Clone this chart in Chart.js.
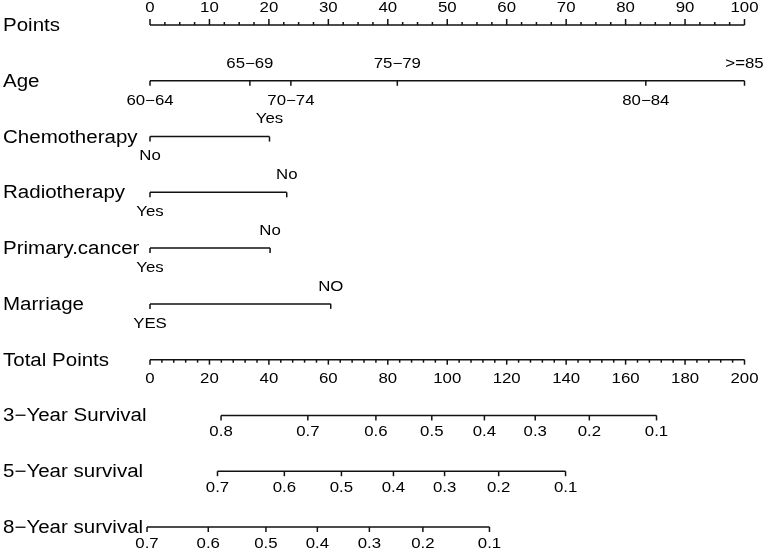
<!DOCTYPE html>
<html>
<head>
<meta charset="utf-8">
<script src="https://cdn.jsdelivr.net/npm/chart.js@4/dist/chart.umd.min.js"></script>
<style>
  body { margin: 0; background: #fff; }
</style>
</head>
<body>
<canvas id="nomogram" width="765" height="551"></canvas>
<script>
// row titles, top to bottom
const rowTitles = ['Points', 'Age', 'Chemotherapy', 'Radiotherapy', 'Primary.cancer',
  'Marriage', 'Total Points', '3\u2212Year Survival', '5\u2212Year survival', '8\u2212Year survival'];

// points scale (0-100)
const pointTicks = [0, 10, 20, 30, 40, 50, 60, 70, 80, 90, 100];

// predictors: level labels and their points
const ageLevels = ['60\u221264', '65\u221269', '70\u221274', '75\u221279', '80\u221284', '>=85'];
const agePoints = [0, 16.8, 23.7, 41.6, 83.4, 100];
const chemoLevels = ['No', 'Yes'];
const chemoPoints = [0, 20.1];
const radioLevels = ['Yes', 'No'];
const radioPoints = [0, 23.0];
const primaryLevels = ['Yes', 'No'];
const primaryPoints = [0, 20.2];
const marriageLevels = ['YES', 'NO'];
const marriagePoints = [0, 30.4];

// total points scale (0-200)
const totalTicks = [0, 20, 40, 60, 80, 100, 120, 140, 160, 180, 200];

// survival probabilities and the total points they sit at
const surv3Labels = ['0.8', '0.7', '0.6', '0.5', '0.4', '0.3', '0.2', '0.1'];
const surv3Total = [23.9, 53.1, 76.0, 94.8, 112.5, 129.6, 147.8, 170.4];
const surv5Labels = ['0.7', '0.6', '0.5', '0.4', '0.3', '0.2', '0.1'];
const surv5Total = [22.7, 45.2, 64.4, 81.9, 99.1, 117.3, 139.8];
const surv8Labels = ['0.7', '0.6', '0.5', '0.4', '0.3', '0.2', '0.1'];
const surv8Total = [-1.0, 19.6, 39.0, 56.3, 73.8, 91.8, 114.2];

const INK = '#111';
const FONT = '"Liberation Sans", Arial, sans-serif';

const predictors = [
  { levels: ageLevels, pts: agePoints },
  { levels: chemoLevels, pts: chemoPoints },
  { levels: radioLevels, pts: radioPoints },
  { levels: primaryLevels, pts: primaryPoints },
  { levels: marriageLevels, pts: marriagePoints },
];
const survRows = [
  { labels: surv3Labels, pts: surv3Total },
  { labels: surv5Labels, pts: surv5Total },
  { labels: surv8Labels, pts: surv8Total },
];

function seg(row, values, axis) {
  return {
    data: [{ x: Math.min(...values), y: row }, { x: Math.max(...values), y: row }],
    xAxisID: axis,
    showLine: true,
    borderColor: INK,
    borderWidth: 1.5,
    pointRadius: 0,
    clip: false,
  };
}

const datasets = [seg(0, pointTicks, 'x')];
predictors.forEach((p, i) => datasets.push(seg(i + 1, p.pts, 'x')));
datasets.push(seg(6, totalTicks, 'x2'));
survRows.forEach((s, i) => datasets.push(seg(7 + i, s.pts, 'x2')));

// the original text is a little wider than it is tall
function text(ctx, s, x, y, size, align, sx) {
  ctx.save();
  ctx.translate(x, y);
  ctx.scale(sx || 1.2, 1);
  ctx.font = size + 'px ' + FONT;
  ctx.fillStyle = '#000';
  ctx.textAlign = align;
  ctx.textBaseline = 'middle';
  ctx.fillText(s, 0, 0);
  ctx.restore();
}

function tick(ctx, x, y, len) {
  ctx.beginPath();
  ctx.moveTo(x, y);
  ctx.lineTo(x, y + len);
  ctx.stroke();
}

const nomoPlugin = {
  id: 'nomo',
  afterDatasetsDraw(chart) {
    const ctx = chart.ctx;
    const xs = chart.scales.x, xt = chart.scales.x2, ys = chart.scales.y;
    ctx.save();
    ctx.strokeStyle = INK;
    ctx.lineWidth = 1.5;

    rowTitles.forEach((t, i) => text(ctx, t, 3, ys.getPixelForValue(i) + 1, 18, 'left', 1.14));

    // points axis: ticks up, labels above
    let y = ys.getPixelForValue(0);
    for (let v = 0; v <= 100; v += 2.5) {
      tick(ctx, xs.getPixelForValue(v), y, v % 10 === 0 ? -6 : -3);
    }
    pointTicks.forEach(v => text(ctx, String(v), xs.getPixelForValue(v), y - 17, 14, 'center'));

    // predictors: ticks down, labels alternate below/above
    predictors.forEach((p, i) => {
      const yy = ys.getPixelForValue(i + 1);
      p.pts.forEach((v, k) => {
        const px = xs.getPixelForValue(v);
        tick(ctx, px, yy, 5);
        text(ctx, p.levels[k], px, k % 2 === 0 ? yy + 20 : yy - 17, 14, 'center');
      });
    });

    // total points: ticks down, labels below
    y = ys.getPixelForValue(6);
    for (let v = 0; v <= 200; v += 4) {
      tick(ctx, xt.getPixelForValue(v), y, v % 20 === 0 ? 5 : 3);
    }
    totalTicks.forEach(v => text(ctx, String(v), xt.getPixelForValue(v), y + 19, 14, 'center'));

    // survival rows
    survRows.forEach((s, i) => {
      const yy = ys.getPixelForValue(7 + i);
      s.pts.forEach((v, k) => {
        const px = xt.getPixelForValue(v);
        tick(ctx, px, yy, 5);
        text(ctx, s.labels[k], px, yy + 17, 14, 'center');
      });
    });
    ctx.restore();
  }
};

new Chart(document.getElementById('nomogram'), {
  type: 'scatter',
  data: { datasets },
  options: {
    responsive: false,
    animation: false,
    layout: { padding: { left: 150, right: 20.5, top: 25, bottom: 24 } },
    scales: {
      x: { type: 'linear', min: 0, max: 100, display: false },
      x2: { type: 'linear', min: 0, max: 200, display: false },
      y: { type: 'linear', min: 0, max: 9, reverse: true, display: false },
    },
    plugins: { legend: { display: false }, tooltip: { enabled: false } },
  },
  plugins: [nomoPlugin],
});
</script>
</body>
</html>
